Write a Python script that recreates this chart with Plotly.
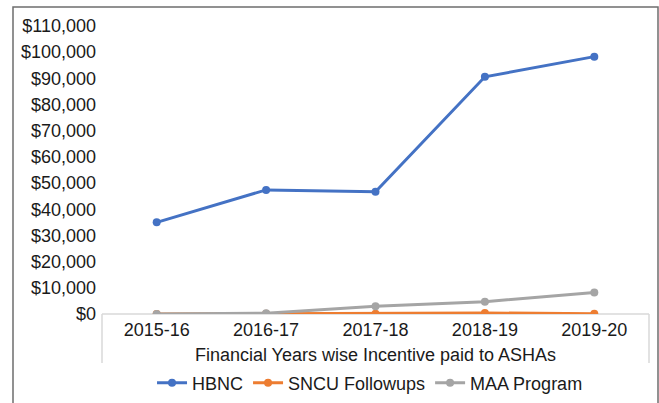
import plotly.graph_objects as go

years = ["2015-16", "2016-17", "2017-18", "2018-19", "2019-20"]
hbnc = [35000, 47400, 46700, 90600, 98300]
sncu = [0, 100, 100, 400, 100]
maa = [0, 300, 3000, 4700, 8200]
y_ticks = list(range(0, 110001, 10000))
y_tick_text = ["${:,}".format(v) for v in y_ticks]

FONT = "Liberation Sans, Arial, sans-serif"
FS = 18
fig = go.Figure()
for name, vals, col in [("HBNC", hbnc, "#4472C4"),
                        ("SNCU Followups", sncu, "#ED7D31"),
                        ("MAA Program", maa, "#A5A5A5")]:
    fig.add_trace(go.Scatter(x=years, y=vals, name=name, mode="lines+markers",
                             line=dict(color=col, width=3),
                             marker=dict(color=col, size=8, symbol="circle")))

L, R, T, B = 102, 10, 26, 89
W, H = 659, 403
pw, ph = W - L - R, H - T - B

fig.update_layout(
    width=W, height=H,
    margin=dict(l=L, r=R, t=T, b=B, autoexpand=False),
    paper_bgcolor="white", plot_bgcolor="white",
    font=dict(family=FONT, size=FS, color="#1a1a1a"),
    showlegend=True,
    legend=dict(orientation="h", x=0.49, xanchor="center", y=-(383 - 314) / ph,
                yanchor="middle", font=dict(size=FS), itemwidth=30,
                tracegroupgap=0),
    xaxis=dict(type="category", showgrid=False, showline=False, ticks="",
               zeroline=False, range=[-0.5, 4.5], automargin=False,
               ticklabelstandoff=3,
               title=dict(text="Financial Years wise Incentive paid to ASHAs",
                          font=dict(size=FS), standoff=9),
               tickfont=dict(size=FS)),
    yaxis=dict(range=[0, 110000], tickvals=y_ticks, ticktext=y_tick_text,
               showgrid=False, zeroline=False, showline=False, ticks="",
               automargin=False, tickfont=dict(size=FS), ticklabelstandoff=5),
)

# category axis frame (light gray)
ybot = -(363 - 314) / ph
fig.add_shape(type="line", xref="paper", yref="paper", x0=0, x1=1, y0=0, y1=0,
              line=dict(color="#D9D9D9", width=1.5), layer="below")
fig.add_shape(type="line", xref="paper", yref="paper", x0=0, x1=0, y0=0, y1=ybot,
              line=dict(color="#D9D9D9", width=1.5), layer="below")
fig.add_shape(type="line", xref="paper", yref="paper", x0=1, x1=1, y0=0, y1=ybot,
              line=dict(color="#D9D9D9", width=1.5), layer="below")
# outer chart border
fig.add_shape(type="rect", xref="paper", yref="paper",
              x0=(13 - L) / pw, x1=(658 - L) / pw,
              y0=-1.0, y1=(314 - 7) / ph,
              line=dict(color="#6E6E6E", width=1.5), layer="below")

fig.write_html("out.html", config={"displayModeBar": False},
               post_script="document.body.style.margin='0px';")
